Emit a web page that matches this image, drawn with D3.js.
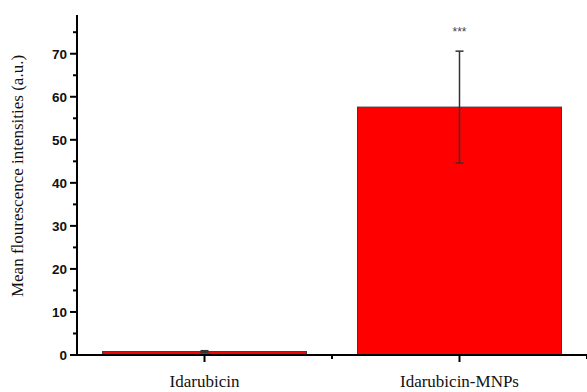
<!DOCTYPE html>
<html>
<head>
<meta charset="utf-8">
<script src="https://cdn.jsdelivr.net/npm/d3@7"></script>
<style>
  html, body { margin: 0; padding: 0; background: #fff; }
  svg { display: block; }
</style>
</head>
<body>
<svg id="chart" width="587" height="392"></svg>
<script>
// Data
const categories = ["Idarubicin", "Idarubicin-MNPs"];
const means = [0.8, 57.6];
const errors = [0.2, 13.0];
const significance = ["", "***"];
const majorTicks = [0, 10, 20, 30, 40, 50, 60, 70];
const minorTicks = [5, 15, 25, 35, 45, 55, 65, 75];

(function () {
  const svg = d3.select("#chart");
  const plotLeft = 77, plotRight = 587, plotTop = 15, plotBottom = 355;

  // Categories sit at positions 1, 2 on a continuous axis from 0.5 to 2.5
  const x = d3.scaleLinear().domain([0.5, 2.5]).range([plotLeft, plotRight]);
  const y = d3.scaleLinear().domain([0, 79]).range([plotBottom, plotTop]);
  const barWidth = 0.8;

  // Bars
  svg.selectAll("rect.bar")
    .data(means)
    .join("rect")
    .attr("class", "bar")
    .attr("x", (d, i) => x(i + 1 - barWidth / 2))
    .attr("width", (d, i) => x(i + 1 + barWidth / 2) - x(i + 1 - barWidth / 2))
    .attr("y", d => y(d))
    .attr("height", d => y(0) - y(d))
    .attr("fill", "#ff0000")
    .attr("stroke", "#3a3a3a")
    .attr("stroke-width", 1);

  // Error bars
  const eb = svg.append("g").attr("stroke", "#333").attr("stroke-width", 1.5);
  means.forEach((m, i) => {
    const cx = x(i + 1);
    eb.append("line").attr("x1", cx).attr("x2", cx)
      .attr("y1", y(m + errors[i])).attr("y2", y(m - errors[i]));
    [m + errors[i], m - errors[i]].forEach(v => {
      eb.append("line").attr("x1", cx - 4).attr("x2", cx + 4)
        .attr("y1", y(v)).attr("y2", y(v));
    });
  });

  // Significance markers
  svg.selectAll("text.sig")
    .data(means)
    .join("text")
    .attr("class", "sig")
    .attr("x", (d, i) => x(i + 1))
    .attr("y", (d, i) => y(d + errors[i]) - 15)
    .attr("text-anchor", "middle")
    .attr("font-family", "Liberation Sans, Arial, sans-serif")
    .attr("font-size", 12)
    .attr("fill", "#445")
    .text((d, i) => significance[i]);

  // Y axis
  const yAxis = svg.append("g").attr("transform", `translate(${plotLeft},0)`);
  yAxis.append("line").attr("x1", 0).attr("x2", 0).attr("y1", plotTop).attr("y2", plotBottom + 1)
    .attr("stroke", "#000").attr("stroke-width", 2);
  yAxis.selectAll("line.major").data(majorTicks).join("line").attr("class", "major")
    .attr("x1", -7).attr("x2", 0).attr("y1", d => y(d)).attr("y2", d => y(d))
    .attr("stroke", "#000").attr("stroke-width", 2);
  yAxis.selectAll("line.minor").data(minorTicks).join("line").attr("class", "minor")
    .attr("x1", -4).attr("x2", 0).attr("y1", d => y(d)).attr("y2", d => y(d))
    .attr("stroke", "#000").attr("stroke-width", 2);
  yAxis.selectAll("text").data(majorTicks).join("text")
    .attr("x", -10).attr("y", d => y(d)).attr("dy", "0.36em")
    .attr("text-anchor", "end")
    .attr("font-family", "Liberation Sans, Arial, sans-serif")
    .attr("font-weight", "bold")
    .attr("font-size", 13.5)
    .attr("fill", "#111")
    .text(d => d);

  // X axis
  const xAxis = svg.append("g").attr("transform", `translate(0,${plotBottom})`);
  xAxis.append("line").attr("x1", plotLeft - 1).attr("x2", plotRight).attr("y1", 0).attr("y2", 0)
    .attr("stroke", "#000").attr("stroke-width", 2);
  xAxis.selectAll("line.major").data(categories).join("line").attr("class", "major")
    .attr("x1", (d, i) => x(i + 1)).attr("x2", (d, i) => x(i + 1))
    .attr("y1", 0).attr("y2", 7)
    .attr("stroke", "#000").attr("stroke-width", 2);
  xAxis.selectAll("line.minor").data([1.5, 2.5]).join("line").attr("class", "minor")
    .attr("x1", d => x(d)).attr("x2", d => x(d))
    .attr("y1", 0).attr("y2", 4)
    .attr("stroke", "#000").attr("stroke-width", 2);
  xAxis.selectAll("text").data(categories).join("text")
    .attr("x", (d, i) => x(i + 1)).attr("y", 32)
    .attr("text-anchor", "middle")
    .attr("font-family", "Liberation Serif, Times New Roman, serif")
    .attr("font-size", 17)
    .attr("fill", "#111")
    .text(d => d);

  // Y axis title
  svg.append("text")
    .attr("transform", `translate(23,176) rotate(-90)`)
    .attr("text-anchor", "middle")
    .attr("font-family", "Liberation Serif, Times New Roman, serif")
    .attr("font-size", 17)
    .attr("fill", "#111")
    .text("Mean flourescence intensities (a.u.)");
})();
</script>
</body>
</html>
